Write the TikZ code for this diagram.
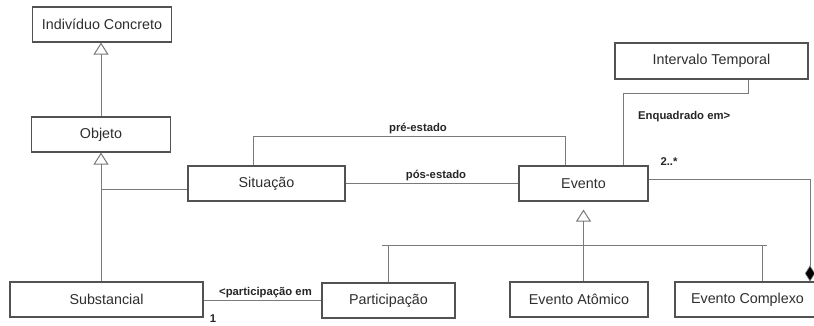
\documentclass[tikz,border=0pt]{standalone}
\usepackage{fontspec}
\setmainfont{Liberation Sans}
\usetikzlibrary{arrows.meta}

\begin{document}
\begin{tikzpicture}[x=1pt,y=-1pt,
  cls/.style={draw=black!68, line width=1.1pt, fill=white, inner sep=0pt,
    font=\fontsize{14.3}{16}\selectfont, text=black!82},
  lnk/.style={draw=black!52, line width=1pt},
  gen/.style={lnk, -{Triangle[open, length=12pt, width=15pt, line width=1pt]}},
  comp/.style={lnk, -{Diamond[length=16pt, width=10pt, fill=black, line width=0.6pt]}},
  lbl/.style={font=\bfseries\fontsize{11.3}{13}\selectfont, text=black!85, inner sep=0pt}]

\useasboundingbox (0,0) rectangle (814,325);
\clip (0,0) rectangle (814,325);
\fill[white] (0,0) rectangle (814,325);

% classes
\node[cls, minimum width=139pt, minimum height=35pt] (ind) at (102,24.5) {Indivíduo Concreto};
\node[cls, minimum width=139pt, minimum height=35pt] (obj) at (101,134.5) {Objeto};
\node[cls, minimum width=157pt, minimum height=35pt] (sit) at (266.5,183.5) {Situação};
\node[cls, minimum width=129pt, minimum height=35pt] (eve) at (583.5,183.5) {Evento};
\node[cls, minimum width=193pt, minimum height=36pt] (int) at (711.5,61) {Intervalo Temporal};
\node[cls, minimum width=193pt, minimum height=35pt] (sub) at (106.5,299.5) {Substancial};
\node[cls, minimum width=133pt, minimum height=35pt] (par) at (388.5,300.5) {Participação};
\node[cls, minimum width=138pt, minimum height=35pt] (ato) at (579,299.5) {Evento Atômico};
\node[cls, minimum width=145pt, minimum height=35pt] (com) at (747.5,299.5) {Evento Complexo};

% route points
\coordinate (objbr) at (101,189);
\coordinate (prea) at (253,136);
\coordinate (preb) at (565,136);
\coordinate (inta) at (748,93);
\coordinate (intb) at (623,93);
\coordinate (coma) at (810,179);
\coordinate (bara) at (382,245);
\coordinate (barb) at (767,245);
\coordinate (barc) at (762,245);

% generalizations of Objeto side
\draw[gen] (obj.north) -- (obj.north |- ind.south);
\draw[gen] (obj.south |- sub.north) -- (obj.south);
\draw[lnk] (objbr) -- (sit.west |- objbr);

% pré-estado / pós-estado
\draw[lnk] (sit.north -| prea) -- (prea) -- (preb) -- (eve.north -| preb);
\node[lbl, anchor=south] (lpre) at (418,134.5) {pré-estado};
\draw[lnk] (sit.east) -- (eve.west);
\node[lbl, anchor=south] (lpos) at (436,181.5) {pós-estado};

% Enquadrado em
\draw[lnk] (int.south -| inta) -- (inta) -- (intb) -- (eve.north -| intb);
\node[lbl, anchor=west] (lenq) at (638,117) {Enquadrado em>};
\node[lbl] (lmul) at (669,162) {2..*};

% composition Evento Complexo
\draw[comp] (eve.east |- coma) -- (coma) -- (com.north -| coma);

% generalization of Evento
\draw[gen, shorten >=8pt] (ato.north -| eve.south) -- (eve.south);
\draw[lnk] (bara) -- (barb);
\draw[lnk] (par.north) -- (par.north |- bara);
\draw[lnk] (barc) -- (com.north -| barc);

% participação em
\draw[lnk] (sub.east |- 0,300) -- (par.west |- 0,300);
\node[lbl, anchor=south] (lpar) at (265.5,298.5) {<participação em};
\node[lbl, anchor=north] (lone) at (213,314.5) {1};
\end{tikzpicture}
\end{document}
